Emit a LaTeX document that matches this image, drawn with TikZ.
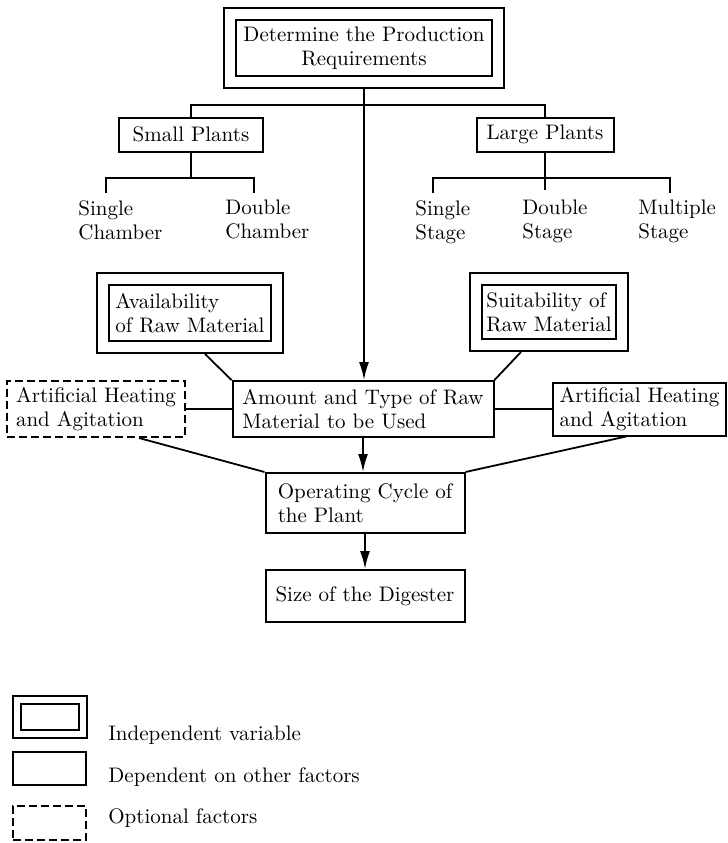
\documentclass[tikz,border=0pt]{standalone}
\usepackage{tikz}
\usetikzlibrary{arrows.meta}

\begin{document}
\begin{tikzpicture}[
    x=0.5pt, y=-0.5pt,
    font=\fontsize{10.5}{12}\selectfont,
    box/.style={draw, line width=1pt, inner sep=0pt, align=left},
    indep/.style={box, double, double distance=5pt, outer sep=3.5pt},
    optional/.style={box, dash pattern=on 4pt off 2pt},
    item/.style={inner sep=0pt, align=left, anchor=north west},
    legendtext/.style={inner sep=0pt, anchor=west},
    link/.style={draw, line width=0.9pt},
    flow/.style={link, -{Latex[length=9pt, width=5pt]}}
]
\useasboundingbox (0,0) rectangle (728,843);

%% ================================================================
%% Production requirements and plant sizes
%% ================================================================
\node[indep, align=center, minimum width=134pt, minimum height=34.25pt]
    (top) at (364,48) {Determine the Production\\Requirements};
\node[box, minimum width=72pt, minimum height=17pt]
    (small) at (191,134.5) {Small Plants};
\node[box, minimum width=68.5pt, minimum height=17pt]
    (large) at (545,134.5) {Large Plants};

\coordinate (hub) at (364,105);
\draw[link] (small.north) |- (hub) -| (large.north);

%% --- small plants: chambers ---
\node[item] (sgch) at (78,200) {Single\\Chamber};
\node[item] (dbch) at (225,200) {Double\\Chamber};
\coordinate (smbar) at (191,178);
\coordinate (sc1) at (106,193);
\coordinate (sc2) at (254,193);
\draw[link] (small.south) -- (smbar);
\draw[link] (sc1) |- (smbar) -| (sc2);

%% --- large plants: stages ---
\node[item] (sgst) at (415,200) {Single\\Stage};
\node[item] (dbst) at (522,200) {Double\\Stage};
\node[item] (mlst) at (638,200) {Multiple\\Stage};
\coordinate (lgbar) at (545,178);
\coordinate (ls1) at (433,193);
\coordinate (ls2) at (545,190);
\coordinate (ls3) at (670,193);
\draw[link] (large.south) -- (ls2);
\draw[link] (ls1) |- (lgbar) -| (ls3);

%% ================================================================
%% Raw material
%% ================================================================
\node[indep, minimum width=87pt, minimum height=34.25pt]
    (avail) at (190,312.75) {Availability\\of Raw Material};
\node[indep, minimum width=73pt, minimum height=33pt]
    (suit) at (549,312) {Suitability of\\Raw Material};
\node[box, minimum width=130.5pt, minimum height=28pt]
    (amount) at (363,409) {Amount and Type of Raw\\Material to be Used};
\node[optional, minimum width=89pt, minimum height=28pt]
    (artL) at (96,409) {Artificial Heating\\and Agitation};
\node[box, minimum width=86.5pt, minimum height=26.5pt]
    (artR) at (639.5,409) {Artificial Heating\\and Agitation};

\draw[flow] (top.south) -- (top.south |- amount.north);
\draw[link] (avail.-70) -- (amount.north west);
\draw[link] (suit.-125) -- (amount.north east);
\draw[link] (artL.east) -- (amount.west);
\draw[link] (amount.east) -- (artR.west);

%% ================================================================
%% Operating cycle and digester size
%% ================================================================
\node[box, minimum width=99.5pt, minimum height=30pt]
    (oper) at (365,503) {Operating Cycle of\\the Plant};
\node[box, minimum width=99.5pt, minimum height=26pt]
    (size) at (365,596) {Size of the Digester};

\draw[flow] (amount.south) -- (amount.south |- oper.north);
\draw[link] (artL.-34) -- (oper.north west);
\draw[link] (artR.-116) -- (oper.north east);
\draw[flow] (oper.south) -- (size.north);

%% ================================================================
%% Legend
%% ================================================================
\node[indep, double distance=3pt, outer sep=2.5pt,
      minimum width=32.75pt, minimum height=16.75pt] (leg1) at (50,717) {};
\node[box, minimum width=36.5pt, minimum height=16.5pt] (leg2) at (49.5,768.5) {};
\node[optional, minimum width=36.5pt, minimum height=17pt] (leg3) at (49.5,823) {};
\node[legendtext] (legt1) at (108,735) {Independent variable};
\node[legendtext] (legt2) at (108,777) {Dependent on other factors};
\node[legendtext] (legt3) at (108,818) {Optional factors};

\end{tikzpicture}
\end{document}
